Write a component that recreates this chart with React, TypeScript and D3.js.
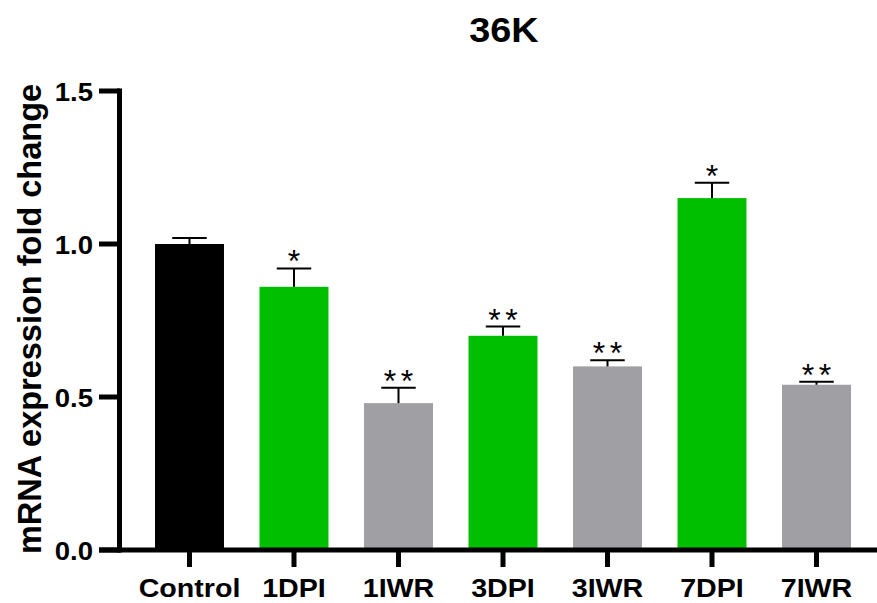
import React from "react";
import * as d3 from "d3";

const categories = ["Control", "1DPI", "1IWR", "3DPI", "3IWR", "7DPI", "7IWR"];
const means = [1.0, 0.86, 0.48, 0.70, 0.60, 1.15, 0.54];
const errors = [0.02, 0.06, 0.05, 0.03, 0.02, 0.05, 0.01];
const groups = ["control", "dpi", "iwr", "dpi", "iwr", "dpi", "iwr"];
const starCounts = [0, 1, 2, 2, 2, 1, 2];
const yTicks = [0.0, 0.5, 1.0, 1.5];

const colorMap: Record<string, string> = {
  control: "#000000",
  dpi: "#00bf00",
  iwr: "#a09fa4",
};

const W = 877;
const H = 603;
const FONT = "'Liberation Sans', Arial, sans-serif";
const SX = 1.08;

export default function App() {
  const x = d3.scaleBand<string>().domain(categories).range([120, 886]).paddingInner(0.34).paddingOuter(0.335);
  const y = d3.scaleLinear().domain([0, 1.5]).range([550, 91]);
  const bw = x.bandwidth();
  const capW = bw * 0.5;

  return (
    <div style={{ position: "fixed", left: 0, top: 0 }}>
      <svg width={W} height={H} style={{ display: "block", background: "#fff" }}>
        <text transform={`translate(504, 42) scale(${SX},1)`} textAnchor="middle" fontFamily={FONT} fontWeight="bold" fontSize={35}>36K</text>
        <text
          transform={`translate(41, ${(86 + 552) / 2}) rotate(-90)`}
          textAnchor="middle"
          fontFamily={FONT}
          fontWeight="bold"
          fontSize={32.5}
        >
          mRNA expression fold change
        </text>
        {categories.map((c, i) => {
          const cx = (x(c) as number) + bw / 2;
          const top = y(means[i]);
          const cap = y(means[i] + errors[i]);
          const n = starCounts[i];
          return (
            <g key={c}>
              <rect x={x(c)} y={top} width={bw} height={y(0) - top} fill={colorMap[groups[i]]} />
              <line x1={cx} x2={cx} y1={top} y2={cap} stroke="#000" strokeWidth={2} />
              <line x1={cx - capW / 2} x2={cx + capW / 2} y1={cap} y2={cap} stroke="#000" strokeWidth={2} />
              {d3.range(n).map((k) => (
                <text
                  key={k}
                  x={cx + (k - (n - 1) / 2) * 17}
                  y={cap + 4}
                  textAnchor="middle"
                  fontFamily={FONT}
                  fontSize={32}
                  fill="#000"
                >
                  *
                </text>
              ))}
              <line x1={cx} x2={cx} y1={550} y2={567} stroke="#000" strokeWidth={5} />
              <text transform={`translate(${cx}, 597) scale(${SX},1)`} textAnchor="middle" fontFamily={FONT} fontWeight="bold" fontSize={26.5}>
                {c}
              </text>
            </g>
          );
        })}
        {/* y axis */}
        <line x1={119.5} x2={119.5} y1={88.5} y2={552.5} stroke="#000" strokeWidth={5} />
        {yTicks.map((t) => (
          <g key={t}>
            <line x1={99} x2={120} y1={y(t)} y2={y(t)} stroke="#000" strokeWidth={5} />
            <text transform={`translate(93, ${y(t) + 10}) scale(${SX},1)`} textAnchor="end" fontFamily={FONT} fontWeight="bold" fontSize={25.5}>
              {d3.format(".1f")(t)}
            </text>
          </g>
        ))}
        {/* x axis */}
        <line x1={99} x2={886} y1={550} y2={550} stroke="#000" strokeWidth={5} />
      </svg>
    </div>
  );
}
